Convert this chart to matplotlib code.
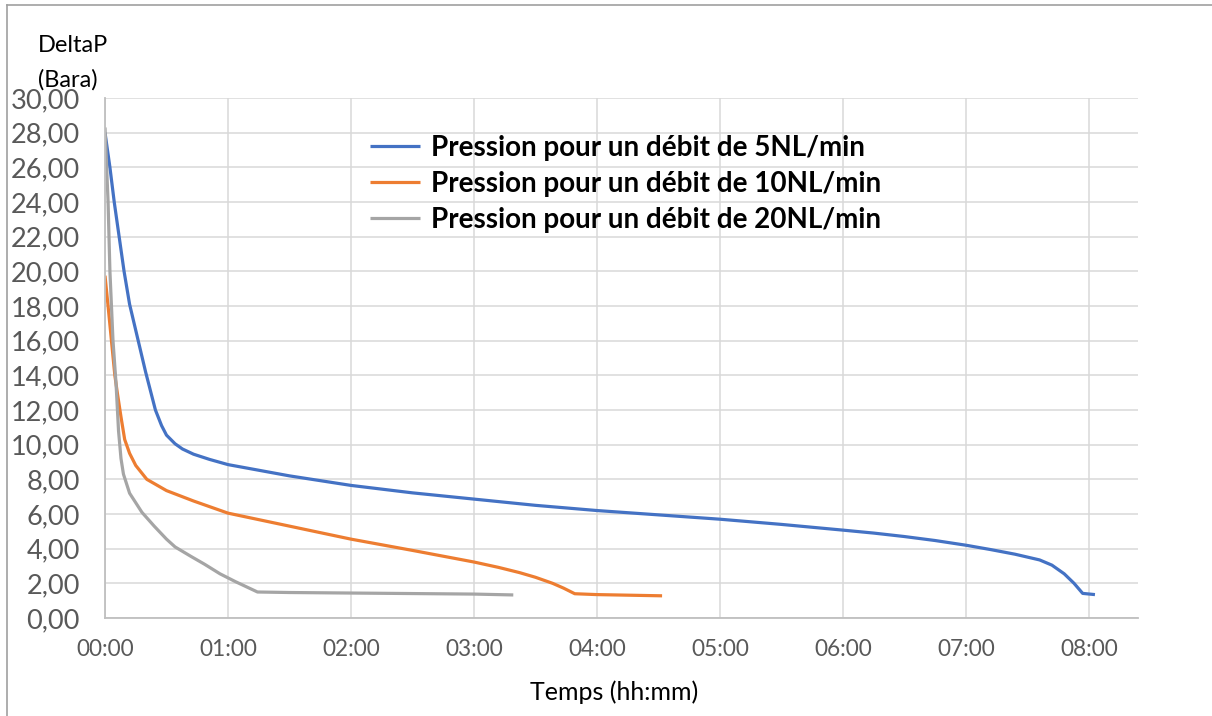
import matplotlib
matplotlib.use('Agg')
import matplotlib.pyplot as plt
from matplotlib.lines import Line2D

# time in hours, pressure in bar
t_5 = [0, 0.04, 0.075, 0.115, 0.155, 0.2, 0.27, 0.33, 0.41, 0.46, 0.5, 0.57,
       0.63, 0.72, 0.85, 1.0, 1.5, 2.0, 2.5, 3.0, 3.5, 4.0, 4.5, 5.0, 5.5, 6.0,
       6.25, 6.5, 6.75, 7.0, 7.2, 7.4, 7.6, 7.7, 7.8, 7.88, 7.95, 8.05]
p_5 = [28.0, 26.0, 24.0, 22.0, 20.0, 18.1, 16.0, 14.2, 12.0, 11.1, 10.55, 10.05,
       9.75, 9.45, 9.15, 8.85, 8.2, 7.65, 7.22, 6.86, 6.5, 6.2, 5.95, 5.7, 5.4, 5.07,
       4.9, 4.7, 4.47, 4.2, 3.95, 3.68, 3.35, 3.05, 2.55, 2.0, 1.42, 1.35]

t_10 = [0, 0.025, 0.08, 0.1, 0.13, 0.16, 0.2, 0.25, 0.34, 0.5, 0.72, 1.0, 1.5,
        2.0, 2.5, 3.0, 3.2, 3.37, 3.5, 3.64, 3.73, 3.82, 4.0, 4.53]
p_10 = [19.75, 18.0, 14.0, 13.0, 11.6, 10.3, 9.5, 8.8, 8.0, 7.35, 6.75, 6.05, 5.3,
        4.55, 3.9, 3.23, 2.92, 2.62, 2.35, 2.0, 1.72, 1.4, 1.35, 1.28]

t_20 = [0, 0.025, 0.04, 0.065, 0.09, 0.11, 0.13, 0.15, 0.2, 0.3, 0.4, 0.5,
        0.57, 0.7, 0.81, 0.935, 1.06, 1.24, 1.5, 2.0, 2.5, 3.0, 3.32]
p_20 = [28.3, 24.0, 20.0, 16.0, 13.5, 10.8, 9.2, 8.3, 7.2, 6.1, 5.3, 4.55,
        4.1, 3.55, 3.1, 2.55, 2.1, 1.5, 1.47, 1.44, 1.41, 1.38, 1.33]

labels = ['Pression pour un débit de 5NL/min',
          'Pression pour un débit de 10NL/min',
          'Pression pour un débit de 20NL/min']
colors = ['#4472C4', '#ED7D31', '#A5A5A5']

x_ticks = [0, 1, 2, 3, 4, 5, 6, 7, 8]
x_labels = ['00:00', '01:00', '02:00', '03:00', '04:00', '05:00', '06:00', '07:00', '08:00']
y_ticks = list(range(0, 31, 2))
y_labels = ['%d,00' % v for v in y_ticks]

plt.rcParams['font.family'] = ['Lato', 'DejaVu Sans']

fig = plt.figure(figsize=(12.12, 7.16), dpi=100)
ax = fig.add_axes([105 / 1212, 1 - 618 / 716, (1138 - 105) / 1212, (618 - 98) / 716])

for t, p, lab, c in zip([t_5, t_10, t_20], [p_5, p_10, p_20], labels, colors):
    ax.plot(t, p, color=c, lw=2.3, label=lab, solid_capstyle='butt')

ax.set_xlim(0, 8.4)
ax.set_ylim(0, 30)
ax.set_xticks(x_ticks)
ax.set_xticklabels(x_labels)
ax.set_yticks(y_ticks)
ax.set_yticklabels(y_labels)
ax.tick_params(axis='y', length=0, pad=18, labelsize=19.5, labelcolor='#595959')
ax.tick_params(axis='x', length=0, pad=15, labelsize=16.3, labelcolor='#595959')
ax.grid(True, color='#d9d9d9', lw=1.1)
ax.set_axisbelow(True)
for s in ['top', 'right']:
    ax.spines[s].set_visible(False)
for s in ['left', 'bottom']:
    ax.spines[s].set_color('#bfbfbf')
    ax.spines[s].set_linewidth(1.3)

leg = ax.legend(loc='upper left', bbox_to_anchor=(370 / 1212, 1 - 135 / 716),
                bbox_transform=fig.transFigure, frameon=False, borderpad=0,
                borderaxespad=0, handlelength=1.8, handletextpad=0.4,
                labelspacing=0.36, prop={'weight': 'bold', 'size': 20})

fig.text(38 / 1212, 1 - 45 / 716, 'DeltaP', fontsize=17, va='center', ha='left')
fig.text(38 / 1212, 1 - 80 / 716, '(Bara)', fontsize=17, va='center', ha='left')
fig.text(614 / 1212, 1 - 692 / 716, 'Temps (hh:mm)', fontsize=18, va='center', ha='center')

# outer frame of the chart area
fig.add_artist(Line2D([7 / 1212, 7 / 1212], [0, 1 - 5 / 716], color='#a0a0a0', lw=1.2))
fig.add_artist(Line2D([7 / 1212, 1], [1 - 5 / 716, 1 - 5 / 716], color='#a0a0a0', lw=1.2))

fig.savefig('out.png', dpi=100)
